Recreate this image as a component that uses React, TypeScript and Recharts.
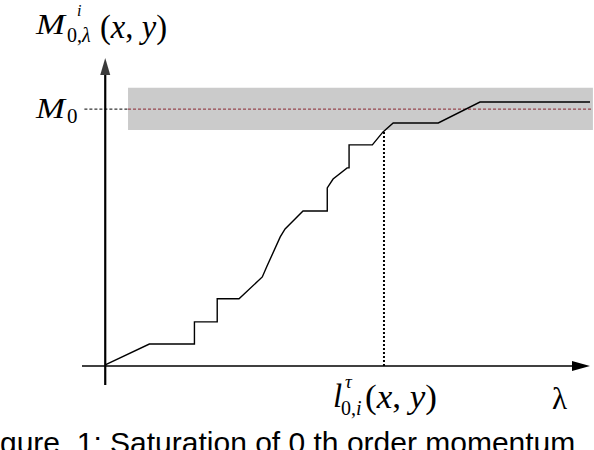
import React from "react";
import {
  LineChart,
  Line,
  XAxis,
  YAxis,
  ReferenceArea,
  ReferenceLine,
  ReferenceDot,
} from "recharts";

// λ (horizontal, 0..100) and M (vertical, 0..100)
const lambdaValues = [
  0, 9.1, 18.4, 18.4, 23.1, 23.1, 27.6, 32.4, 33.4, 36.1, 37.1, 40.8, 45.8,
  45.8, 47.0, 49.9, 50.3, 50.3, 55.1, 57.3, 59.4, 68.7, 77.3, 100.4,
];
const momentValues = [
  0.3, 7.1, 7.1, 14.3, 14.3, 21.8, 21.8, 28.9, 32.5, 41.9, 44.5, 50.3, 50.3,
  57.8, 60.7, 64.3, 64.3, 71.8, 71.8, 76.0, 78.9, 78.9, 85.7, 85.7,
];
const M0 = 83.4;
const bandLow = 76.6;
const bandHigh = 90.3;
const bandStart = 4.7;
const lambdaTau = 57.5;
const lambdaTauM = 76.0;
const xDomain: [number, number] = [-5, 100];
const yDomain: [number, number] = [-6.2, 100];

const data = lambdaValues.map((x, i) => ({ x, m: momentValues[i] }));

const serif = "'Liberation Serif', 'DejaVu Serif', serif";

const UpArrow = (p: any) => (
  <polygon
    points={`${p.cx},${p.cy} ${p.cx - 5},${p.cy + 17} ${p.cx + 5},${p.cy + 17}`}
    fill="#3a3a3a"
  />
);
const RightArrow = (p: any) => (
  <polygon
    points={`${p.cx},${p.cy} ${p.cx - 18},${p.cy - 5} ${p.cx - 18},${p.cy + 5}`}
    fill="#000"
  />
);

export default function App() {
  return (
    <div style={{ position: "absolute", left: 0, top: 0, width: 594, height: 450, background: "#fff", overflow: "hidden" }}>
      <LineChart
        width={594}
        height={450}
        data={data}
        margin={{ top: 58, right: 4, bottom: 65, left: 81 }}
      >
        <XAxis type="number" dataKey="x" domain={xDomain} hide allowDataOverflow />
        <YAxis type="number" domain={yDomain} hide allowDataOverflow />
        <ReferenceArea
          x1={bandStart}
          x2={100.6}
          y1={bandLow}
          y2={bandHigh}
          fill="#cbcbcb"
          fillOpacity={1}
          stroke="none"
          ifOverflow="visible"
        />
        <ReferenceLine
          segment={[{ x: -4.3, y: M0 }, { x: bandStart, y: M0 }]}
          stroke="#000"
          strokeDasharray="3 2"
          strokeWidth={1}
          ifOverflow="visible"
        />
        <ReferenceLine
          segment={[{ x: bandStart, y: M0 }, { x: 100.6, y: M0 }]}
          stroke="#8a2430"
          strokeDasharray="3 2"
          strokeWidth={1}
          ifOverflow="visible"
        />
        <ReferenceLine
          segment={[{ x: lambdaTau, y: 0 }, { x: lambdaTau, y: lambdaTauM }]}
          stroke="#000"
          strokeDasharray="2 2"
          strokeWidth={2}
          ifOverflow="visible"
        />
        <ReferenceLine
          segment={[{ x: -4.8, y: 0 }, { x: 97, y: 0 }]}
          stroke="#000"
          strokeWidth={1.5}
          ifOverflow="visible"
        />
        <ReferenceLine
          segment={[{ x: 0, y: -6.2 }, { x: 0, y: 95 }]}
          stroke="#000"
          strokeWidth={2.2}
          ifOverflow="visible"
        />
        <ReferenceDot x={0} y={100} r={5} shape={UpArrow} ifOverflow="visible" />
        <ReferenceDot x={100} y={0} r={5} shape={RightArrow} ifOverflow="visible" />
        <Line
          type="linear"
          dataKey="m"
          stroke="#000"
          strokeWidth={1.4}
          dot={false}
          isAnimationActive={false}
        />
      </LineChart>
      <svg
        width={594}
        height={450}
        style={{ position: "absolute", left: 0, top: 0, pointerEvents: "none" }}
      >
        <g fontFamily={serif} fill="#000">
          {/* y-axis label */}
          <text x={36} y={34} fontSize={29} fontStyle="italic" textLength={29} lengthAdjust="spacingAndGlyphs">M</text>
          <text x={77} y={16} fontSize={16} fontStyle="italic">i</text>
          <text x={67} y={42} fontSize={20}>0,<tspan fontStyle="italic">λ</tspan></text>
          <text x={100} y={38} fontSize={33} textLength={67} lengthAdjust="spacingAndGlyphs">
            (<tspan fontStyle="italic">x</tspan>, <tspan fontStyle="italic">y</tspan>)
          </text>
          {/* M0 */}
          <text x={36} y={118} fontSize={29} fontStyle="italic" textLength={29} lengthAdjust="spacingAndGlyphs">M</text>
          <text x={67} y={123} fontSize={21}>0</text>
          {/* threshold label */}
          <text x={333} y={407} fontSize={33} fontStyle="italic">l</text>
          <text x={345} y={388} fontSize={19} fontStyle="italic">τ</text>
          <text x={341} y={415} fontSize={20}>0,<tspan fontStyle="italic">i</tspan></text>
          <text x={365} y={408} fontSize={34} textLength={72} lengthAdjust="spacingAndGlyphs">
            (<tspan fontStyle="italic">x</tspan>, <tspan fontStyle="italic">y</tspan>)
          </text>
          {/* lambda */}
          <text x={552} y={409} fontSize={31}>λ</text>
        </g>
        <text
          x={-25}
          y={453}
          fontSize={30}
          fontFamily="'Liberation Sans', Arial, sans-serif"
          fill="#000"
          xmlSpace="preserve"
        >
          Figure  1: Saturation of 0 th order momentum
        </text>
      </svg>
    </div>
  );
}
